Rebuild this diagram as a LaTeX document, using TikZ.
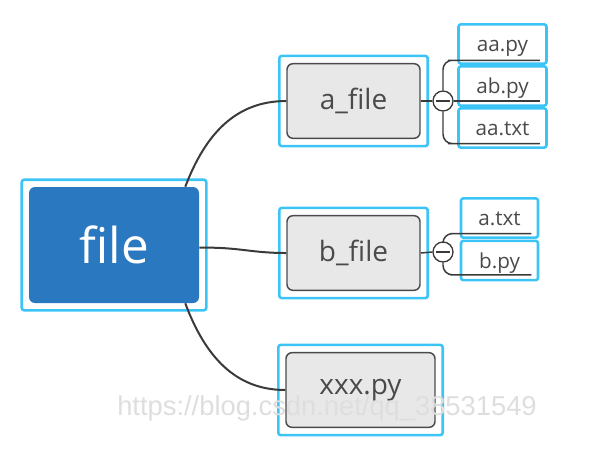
\documentclass[tikz,border=0pt]{standalone}
\usepackage{fontspec}
\setmainfont{Open Sans}
\newfontfamily\markfont{Liberation Sans}
\usetikzlibrary{fit,calc}

\definecolor{rootblue}{HTML}{2A78C0}
\definecolor{hlblue}{HTML}{3CC4F6}
\definecolor{boxgray}{HTML}{E8E8E8}
\definecolor{linegray}{HTML}{3A3A3A}
\definecolor{textgray}{HTML}{4A4A4A}

\begin{document}
\begin{tikzpicture}[x=0.75pt, y=-0.75pt,
    root/.style={fill=rootblue, rounded corners=4.5pt, minimum width=127.5pt,
        minimum height=87pt, text=white, font=\fontsize{37}{40}\selectfont},
    topic/.style={draw=textgray, fill=boxgray, line width=1.1pt, rounded corners=4.5pt,
        minimum height=56pt, text=textgray, font=\fontsize{21}{24}\selectfont},
    hl/.style={draw=hlblue, line width=1.9pt, rounded corners=1.8pt, inner sep=5.25pt},
    leaf/.style={draw=hlblue, line width=1.9pt, rounded corners=1.8pt, minimum height=29.5pt,
        text height=14pt, text depth=2.5pt, text=textgray, font=\fontsize{15.5}{17}\selectfont},
    fold/.style={circle, draw=linegray, fill=white, line width=1pt, minimum size=15pt, inner sep=0pt},
    branch/.style={draw=linegray, line width=1.5pt},
    twig/.style={draw=linegray, line width=1.1pt, rounded corners=7pt}]
    \useasboundingbox (0,0) rectangle (609,451);

    % Root
    \node[root] (file) at (114,245) {file};
    \node[hl, fit=(file)] (file-hl) {};

    % Topics
    \node[topic, minimum width=99.75pt] (afile) at (353.5,101) {a\_file};
    \node[hl, fit=(afile)] (afile-hl) {};
    \node[topic, minimum width=99.75pt] (bfile) at (353.5,253) {b\_file};
    \node[hl, fit=(bfile)] (bfile-hl) {};
    \node[topic, minimum width=111.75pt] (xxx) at (360.5,390) {xxx.py};
    \node[hl, fit=(xxx)] (xxx-hl) {};

    % Main branches
    \draw[branch] ([xshift=-10.5pt]file.north east) .. controls (205,135) and (235,101) .. (afile.west);
    \draw[branch] ([yshift=-2pt]file.east) .. controls (240,247) and (250,253) .. (bfile.west);
    \draw[branch] ([xshift=-10.5pt]file.south east) .. controls (205,356) and (235,390) .. (xxx.west);

    % Leaves of a_file
    \node[leaf, minimum width=66pt] (aapy) at (502.5,44) {aa.py};
    \node[leaf, minimum width=66pt] (abpy) at (502.5,86) {ab.py};
    \node[leaf, minimum width=66pt] (aatxt) at (502.5,128) {aa.txt};
    \node[fold] (afold) at (443,101) {};
    \draw[twig] (afile.east) -- (afold.west);
    \draw[twig] (afold.north) |- ([yshift=3.5pt]aapy.south west) -- ([xshift=-6pt,yshift=3.5pt]aapy.south east);
    \draw[twig] (afold.east) -- ([xshift=-6pt]abpy.east |- afold.east);
    \draw[twig] (afold.south) |- ([yshift=4pt]aatxt.south west) -- ([xshift=-6pt,yshift=4pt]aatxt.south east);
    \draw[linegray, line width=1pt] ([xshift=-5pt]afold.center) -- ([xshift=5pt]afold.center);

    % Leaves of b_file
    \node[leaf, minimum width=57.75pt] (atxt) at (499.5,218) {a.txt};
    \node[leaf, minimum width=57.75pt] (bpy) at (499.5,260.5) {b.py};
    \node[fold] (bfold) at (443,252) {};
    \draw[twig] (bfile.east) -- (bfold.west);
    \draw[twig] (bfold.north) |- ([yshift=4pt]atxt.south west) -- ([xshift=-6pt,yshift=4pt]atxt.south east);
    \draw[twig] (bfold.south) |- ([yshift=5pt]bpy.south west) -- ([xshift=-6pt,yshift=5pt]bpy.south east);
    \draw[linegray, line width=1pt] ([xshift=-5pt]bfold.center) -- ([xshift=5pt]bfold.center);

    % Watermark
    \node[text=black!13, font=\markfont\fontsize{20.5}{22}\selectfont] (mark) at (327,408) {https://blog.csdn.net/qq\_38531549};
\end{tikzpicture}
\end{document}
